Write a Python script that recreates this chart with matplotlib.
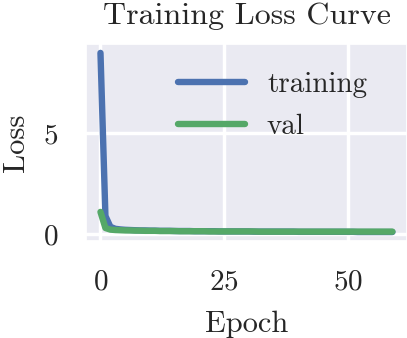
import matplotlib
matplotlib.use("Agg")
import matplotlib.pyplot as plt
import seaborn as sns

# loss values per epoch
train_loss = [9.00, 0.90, 0.36, 0.26, 0.23, 0.21, 0.20, 0.19, 0.18, 0.18,
              0.17, 0.17, 0.16, 0.16, 0.16, 0.15, 0.15, 0.15, 0.15, 0.14,
              0.14, 0.14, 0.14, 0.14, 0.13, 0.13, 0.13, 0.13, 0.13, 0.13,
              0.13, 0.12, 0.12, 0.12, 0.12, 0.12, 0.12, 0.12, 0.12, 0.12,
              0.11, 0.11, 0.11, 0.11, 0.11, 0.11, 0.11, 0.11, 0.11, 0.11,
              0.11, 0.11, 0.10, 0.10, 0.10, 0.10, 0.10, 0.10, 0.10, 0.10]
val_loss = [1.10, 0.30, 0.22, 0.20, 0.19, 0.18, 0.18, 0.17, 0.17, 0.16,
            0.16, 0.16, 0.15, 0.15, 0.15, 0.15, 0.14, 0.14, 0.14, 0.14,
            0.14, 0.14, 0.13, 0.13, 0.13, 0.13, 0.13, 0.13, 0.13, 0.13,
            0.13, 0.13, 0.12, 0.12, 0.12, 0.12, 0.12, 0.12, 0.12, 0.12,
            0.12, 0.12, 0.12, 0.12, 0.12, 0.12, 0.12, 0.12, 0.12, 0.12,
            0.12, 0.12, 0.12, 0.12, 0.12, 0.12, 0.12, 0.12, 0.12, 0.12]
epochs = list(range(len(train_loss)))

sns.set_theme(style="darkgrid")
plt.rcParams['font.family'] = ['cmr10', 'DejaVu Serif']
plt.rcParams['axes.formatter.use_mathtext'] = True
plt.rcParams['mathtext.fontset'] = 'cm'

fig = plt.figure(figsize=(4.07, 3.38), dpi=100)
ax = fig.add_axes([0.211, 0.287, 0.789, 0.583])

blue, green = sns.color_palette("deep")[0], sns.color_palette("deep")[2]
ax.plot(epochs, train_loss, color=blue, lw=4.6, solid_capstyle="round", label="training")
ax.plot(epochs, val_loss, color=green, lw=4.6, solid_capstyle="round", label="val")

ax.set_xticks([0, 25, 50])
ax.set_yticks([0, 5])
ax.tick_params(axis="x", labelsize=21, pad=14)
ax.tick_params(axis="y", labelsize=21, pad=14)
ax.grid(lw=2.5)

ax.set_title("Training Loss Curve", fontsize=23, pad=14)
ax.set_xlabel("Epoch", fontsize=22, labelpad=11)
ax.set_ylabel("Loss", fontsize=22, labelpad=9)
ax.legend(frameon=False, fontsize=21, handlelength=2.3, handletextpad=0.75,
          loc="upper left", bbox_to_anchor=(0.287, 0.86), borderaxespad=0,
          borderpad=0, labelspacing=0.55)

fig.savefig("out.png", dpi=100)
